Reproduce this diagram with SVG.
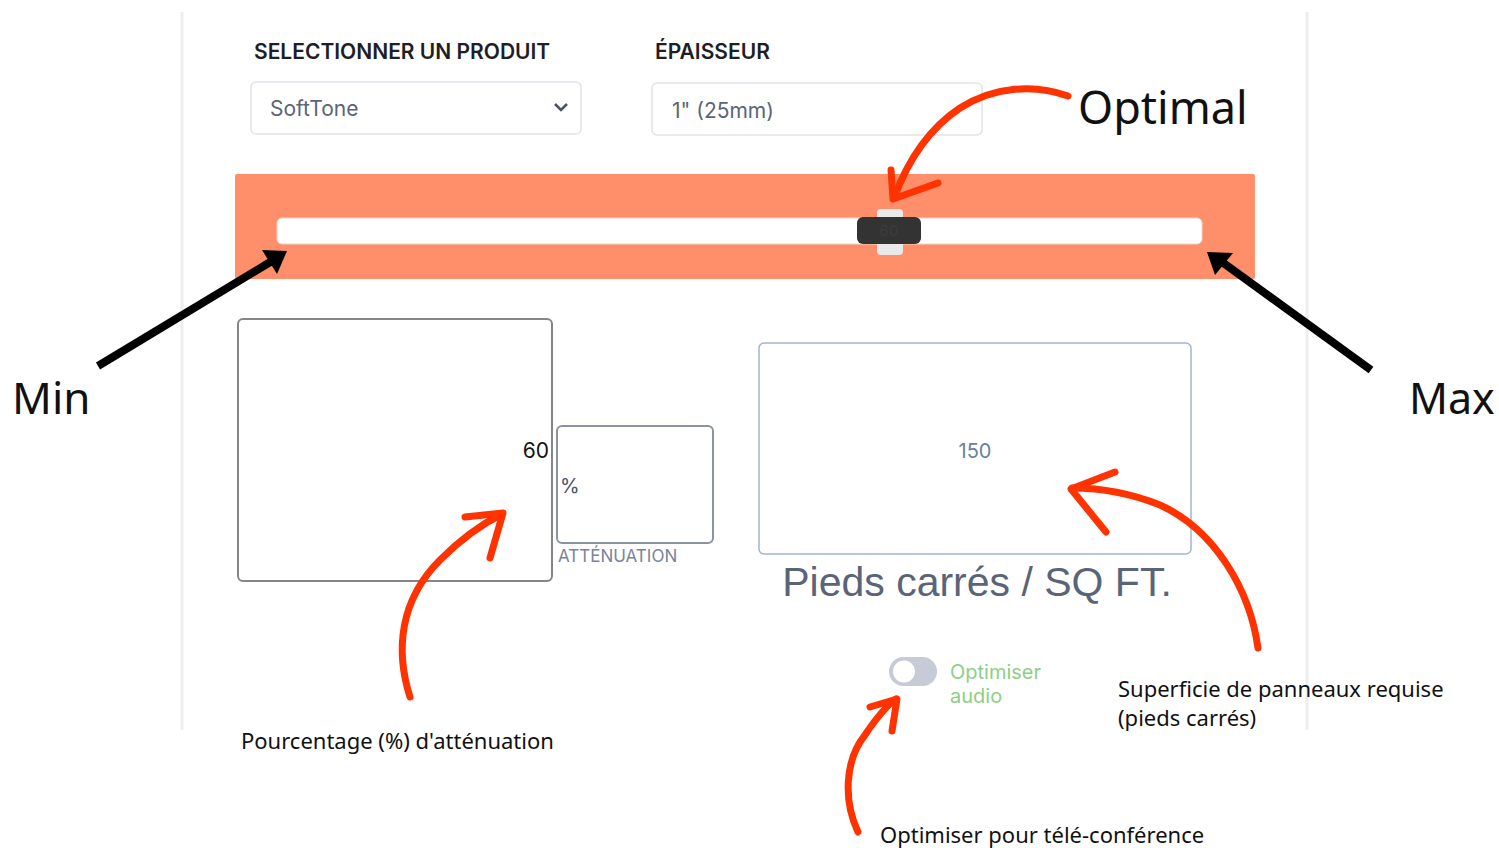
<svg xmlns="http://www.w3.org/2000/svg" width="1499" height="848" viewBox="0 0 1499 848">
<defs>
<style>
.ui{font-family:Inter,"Liberation Sans",sans-serif}
.ann{font-family:"Noto Sans","Open Sans",sans-serif;fill:#111}
.label{font-size:21px;font-weight:600;fill:#1e1e24}
.sel{fill:#fff;stroke:#dfe3ea;stroke-width:1.5}
.seltxt{font-size:21px;fill:#5b6478}
.red{fill:none;stroke:#ff3300;stroke-width:7;stroke-linecap:round;stroke-linejoin:round}
.blk{fill:none;stroke:#000;stroke-width:8}
</style>
</defs>
<rect width="1499" height="848" fill="#fff"/>
<g id="frame">
<line x1="182" y1="12" x2="182" y2="730" stroke="#eeeeee" stroke-width="3"/>
<line x1="1307" y1="12" x2="1307" y2="730" stroke="#eeeeee" stroke-width="3"/>
</g>
<g id="produit">
<text class="ui label" x="254" y="59">SELECTIONNER UN PRODUIT</text>
<rect class="sel" x="251" y="82" width="330" height="52" rx="5"/>
<text class="ui seltxt" x="270" y="116">SoftTone</text>
<polyline points="555,104 561,110 567,104" fill="none" stroke="#4a5262" stroke-width="2.5"/>
</g>
<g id="epaisseur">
<text class="ui label" x="655" y="59">ÉPAISSEUR</text>
<rect class="sel" x="652" y="83" width="330" height="52" rx="5"/>
<text class="ui seltxt" x="672" y="118">1" (25mm)</text>
</g>
<g id="slider">
<rect x="235" y="174" width="1020" height="105" rx="2" fill="#ff8f6b"/>
<rect x="277" y="218" width="925" height="26" rx="5" fill="#fff" stroke="#f3d4c8"/>
<rect x="877" y="209" width="26" height="46" rx="4" fill="#e9e9e9"/>
<rect x="857" y="217" width="64" height="27" rx="6" fill="#333"/>
<text x="889" y="236" font-family="Inter,sans-serif" font-size="15" fill="#3c3c3c" text-anchor="middle">60</text>
</g>
<g id="attenuation">
<rect x="238" y="319" width="314" height="262" rx="5" fill="#fff" stroke="#858585" stroke-width="2"/>
<text x="549" y="458" font-family="Inter,sans-serif" font-size="21" fill="#111" text-anchor="end">60</text>
<rect x="557" y="426" width="156" height="117" rx="5" fill="#fff" stroke="#8c939e" stroke-width="2"/>
<text x="560" y="493" font-family="Inter,sans-serif" font-size="20" fill="#4a5468">%</text>
<text x="558" y="562" font-family="Inter,sans-serif" font-size="17" fill="#7a8498">ATTÉNUATION</text>
</g>
<g id="superficie">
<rect x="759" y="343" width="432" height="211" rx="5" fill="#fff" stroke="#a3b5cc" stroke-width="1.5"/>
<text x="975" y="458" font-family="Inter,sans-serif" font-size="20" fill="#6a7f9c" text-anchor="middle">150</text>
<text x="977" y="596" font-family="'Liberation Sans',Arial,sans-serif" font-size="41" fill="#5a6478" text-anchor="middle">Pieds carrés / SQ FT.</text>
</g>
<g id="toggle">
<rect x="889" y="657" width="48" height="29" rx="14.5" fill="#c6cbd8"/>
<circle cx="904" cy="671.5" r="11" fill="#fff"/>
<text x="950" y="679" font-family="Inter,sans-serif" font-size="20" fill="#8dcf84">Optimiser</text>
<text x="950" y="703" font-family="Inter,sans-serif" font-size="20" fill="#8dcf84">audio</text>
</g>
<g id="annotations">
<text class="ann" x="1078" y="124" font-size="45">Optimal</text>
<text class="ann" x="12" y="414" font-size="44">Min</text>
<text class="ann" x="1409" y="414" font-size="43">Max</text>
<text class="ann" x="241" y="749" font-size="22">Pourcentage (%) d'atténuation</text>
<text class="ann" x="1118" y="697" font-size="22">Superficie de panneaux requise</text>
<text class="ann" x="1118" y="726" font-size="22">(pieds carrés)</text>
<text class="ann" x="880" y="843" font-size="22">Optimiser pour télé-conférence</text>
</g>
<g id="connectors">
<path class="blk" d="M98,366 L272,261"/>
<polygon points="287,251 262,250 277,274" fill="#000"/>
<path class="blk" d="M1371,370 L1222,262"/>
<polygon points="1207,252 1233,253 1215,275" fill="#000"/>
<path class="red" d="M1068,96 C1035,84 995,86 960,108 C930,128 908,160 894,198"/>
<path class="red" d="M891,170 L893,199 L938,183"/>
<path class="red" d="M410,697 C395,650 400,600 440,560 C460,540 480,525 502,514"/>
<path class="red" d="M465,517 L503,513 L490,558"/>
<path class="red" d="M1258,648 C1250,590 1215,530 1160,505 C1130,493 1100,488 1072,488"/>
<path class="red" d="M1115,472 L1071,489 L1106,532"/>
<path class="red" d="M858,832 C843,800 845,760 865,735 C875,720 885,707 896,699"/>
<path class="red" d="M870,707 L897,699 L892,731"/>
</g>
</svg>
